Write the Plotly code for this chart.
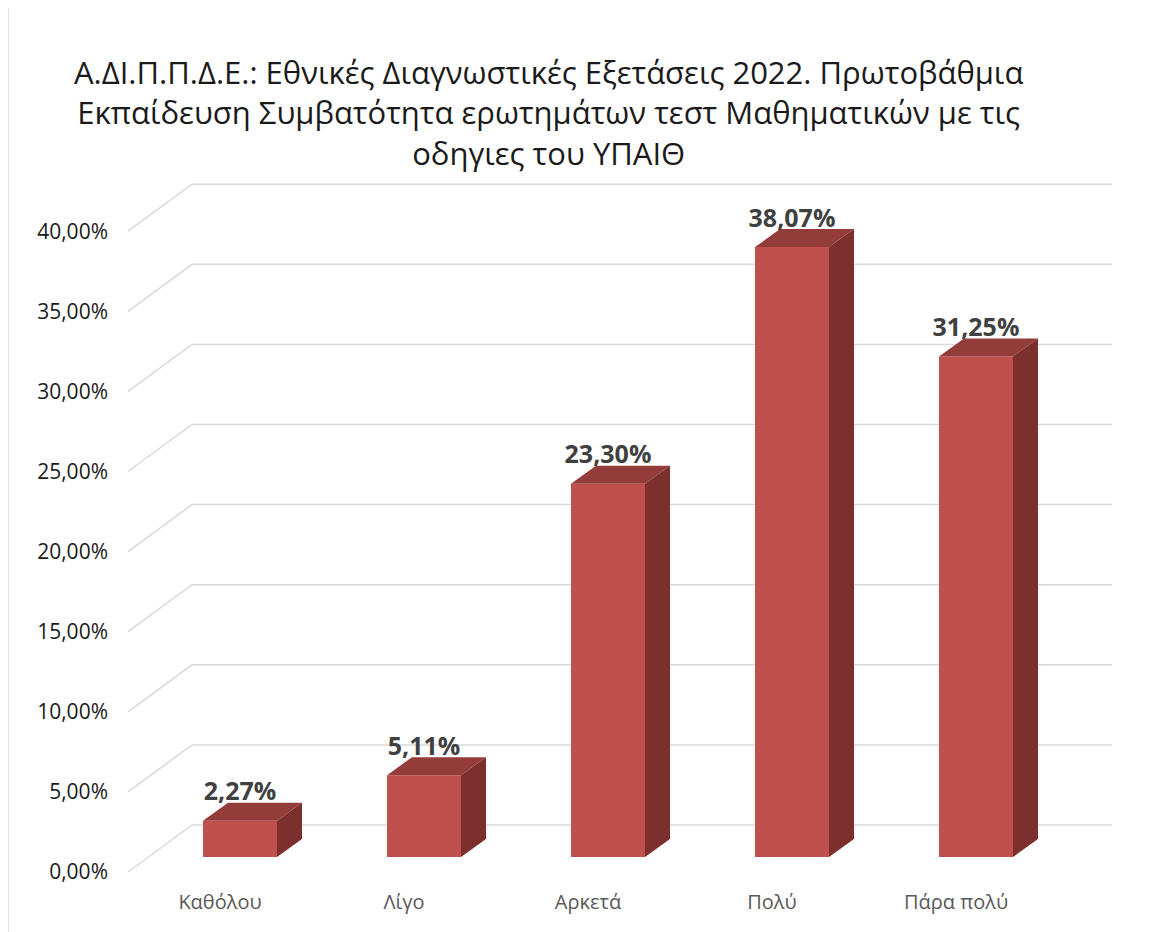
import plotly.graph_objects as go

# ---------------- data ----------------
categories = ["Καθόλου", "Λίγο", "Αρκετά", "Πολύ", "Πάρα πολύ"]
values = [2.27, 5.11, 23.30, 38.07, 31.25]
value_labels = ["2,27%", "5,11%", "23,30%", "38,07%", "31,25%"]
tick_values = [0, 5, 10, 15, 20, 25, 30, 35, 40]
tick_labels = ["0,00%", "5,00%", "10,00%", "15,00%", "20,00%",
               "25,00%", "30,00%", "35,00%", "40,00%"]
title_lines = [
    "Α.ΔΙ.Π.Π.Δ.Ε.: Εθνικές Διαγνωστικές Εξετάσεις 2022. Πρωτοβάθμια",
    "Εκπαίδευση Συμβατότητα ερωτημάτων τεστ Μαθηματικών με τις",
    "οδηγιες του ΥΠΑΙΘ",
]

# ---------------- layout geometry (page pixels) ----------------
OFF = 8                      # html body margin
PAGE_W, PAGE_H = 1150, 932
W, H = PAGE_W - OFF, PAGE_H - OFF
L, R, T, B = 112, 1130, 20, 880     # plot area in page pixels
PX_PER_X = 184.0
X0PX = 240.0
PX_PER_PCT = 16.02
Y0PX = 857.0

x_range = [(L - X0PX) / PX_PER_X, (R - X0PX) / PX_PER_X]
y_range = [(Y0PX - B) / PX_PER_PCT, (Y0PX - T) / PX_PER_PCT]

bar_w = 74 / PX_PER_X
depth_dx = 25 / PX_PER_X
depth_dy = 18 / PX_PER_PCT
label_drop = 4 / PX_PER_PCT
wall_front_dy = (Y0PX - 872) / PX_PER_PCT
wall_back_dy = (Y0PX - 825) / PX_PER_PCT
wall_front_x = (128 - X0PX) / PX_PER_X
wall_back_x = (192 - X0PX) / PX_PER_X
wall_right_x = (1112 - X0PX) / PX_PER_X
cat_shift = -20 / PX_PER_X

FRONT = "#C0504D"
TOP = "#943C3A"
SIDE = "#7C2F2D"
GRID = "#D9D9D9"
FONT = "Open Sans"

fig = go.Figure()
xs = list(range(len(categories)))

fig.add_trace(go.Bar(
    x=xs, y=values, base=0, width=bar_w,
    marker=dict(color=FRONT, line=dict(width=0)),
    hoverinfo="skip", showlegend=False,
))

for i, v in zip(xs, values):
    x0, x1 = i - bar_w / 2, i + bar_w / 2
    fig.add_trace(go.Scatter(
        x=[x0, x0 + depth_dx, x1 + depth_dx, x1, x0],
        y=[v, v + depth_dy, v + depth_dy, v, v],
        fill="toself", fillcolor=TOP, mode="lines",
        line=dict(width=0, color=TOP), hoverinfo="skip", showlegend=False,
    ))
    fig.add_trace(go.Scatter(
        x=[x1, x1, x1 + depth_dx, x1 + depth_dx, x1],
        y=[0, v, v + depth_dy, depth_dy, 0],
        fill="toself", fillcolor=SIDE, mode="lines",
        line=dict(width=0, color=SIDE), hoverinfo="skip", showlegend=False,
    ))

fig.add_trace(go.Scatter(
    x=xs, y=[v + depth_dy - label_drop for v in values], mode="text",
    text=value_labels, textposition="top center",
    textfont=dict(family=FONT, size=25, color="#404040", weight="bold"),
    hoverinfo="skip", showlegend=False,
))

shapes = []
for v in tick_values:
    path = (f"M {wall_front_x},{v + wall_front_dy} "
            f"L {wall_back_x},{v + wall_back_dy} "
            f"L {wall_right_x},{v + wall_back_dy}")
    shapes.append(dict(type="path", path=path, xref="x", yref="y",
                       line=dict(color=GRID, width=1.5), layer="below"))

pw, ph = R - L, B - T
shapes.append(dict(
    type="rect", xref="paper", yref="paper",
    x0=(8 - L) / pw, x1=(PAGE_W + 20 - L) / pw,
    y0=(B - (PAGE_H + 20)) / ph, y1=(B - 6) / ph,
    line=dict(color="#D9D9D9", width=1.5), layer="below",
))

annotations = [dict(
    text="<br>".join(title_lines), showarrow=False,
    xref="paper", yref="paper",
    x=(548 - L) / pw, y=(B - 112) / ph,
    xanchor="center", yanchor="middle", align="center",
    font=dict(family=FONT, size=31, color="#1a1a1a"),
)]

fig.update_layout(
    width=W, height=H,
    margin=dict(l=L - OFF, r=PAGE_W - R, t=T - OFF, b=PAGE_H - B),
    paper_bgcolor="white", plot_bgcolor="white",
    shapes=shapes, annotations=annotations,
    xaxis=dict(
        range=x_range, showgrid=False, zeroline=False, showline=False,
        tickvals=[i + cat_shift for i in xs], ticktext=categories,
        tickfont=dict(family=FONT, size=20, color="#595959"),
        ticks="", ticklabelstandoff=8, fixedrange=True,
    ),
    yaxis=dict(
        range=y_range, showgrid=False, zeroline=False, showline=False,
        tickvals=[v + wall_front_dy for v in tick_values], ticktext=tick_labels,
        tickfont=dict(family=FONT, size=21, color="#1a1a1a"),
        ticks="", ticklabelstandoff=3, fixedrange=True,
    ),
    showlegend=False,
)

fig.write_html("out.html")
